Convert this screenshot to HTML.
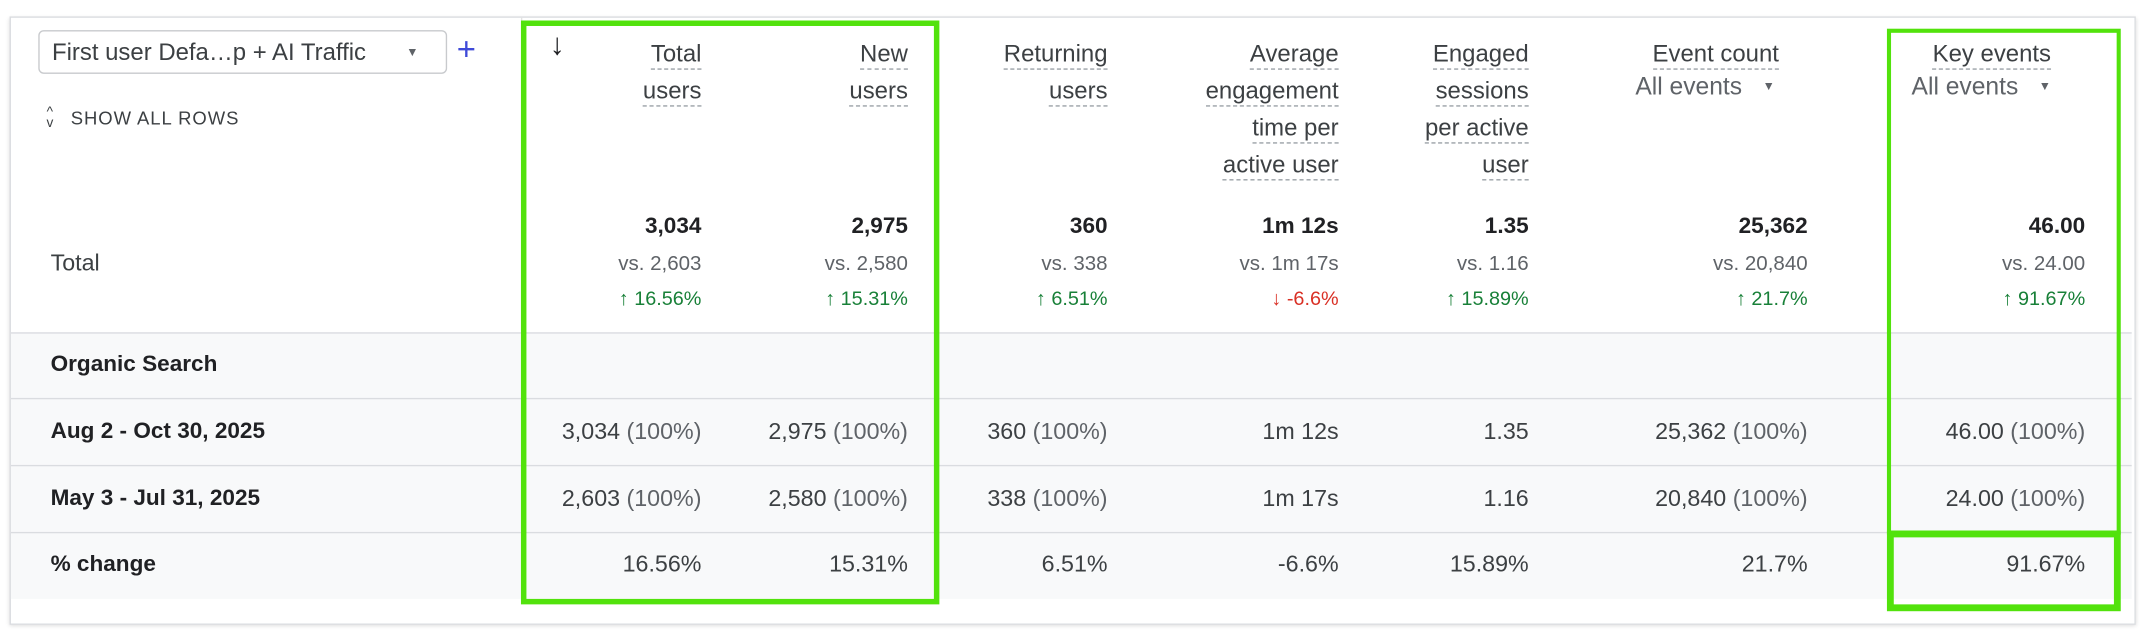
<!DOCTYPE html>
<html><head><meta charset="utf-8">
<style>
html,body{margin:0;padding:0;background:#fff;width:2144px;height:630px;overflow:hidden;}
#s{position:absolute;left:0;top:0;width:1568px;height:461px;transform:scale(1.36735);transform-origin:0 0;font-family:"Liberation Sans",sans-serif;color:#3c4043;}
.a{position:absolute;white-space:nowrap;}
.r{position:absolute;white-space:nowrap;text-align:right;transform:translateY(-50%);}
.h{font-size:17.5px;color:#3c4043;line-height:16px;}
.h span{border-bottom:1.5px dashed #9aa0a6;padding-bottom:1px;}
.b{font-weight:bold;font-size:16.5px;color:#202124;}
.v{font-size:15px;color:#5f6368;}
.g{font-size:14.5px;color:#188038;}
.rd{font-size:14.5px;color:#d93025;}
.c{font-size:17px;color:#3c4043;}
.p{color:#5f6368;}
.lab{font-weight:bold;font-size:16.5px;color:#202124;transform:translateY(-50%);}
.row{position:absolute;left:8px;width:1551px;background:#f8f9fa;border-top:1.5px solid #dadce0;}
.gb{position:absolute;border:4px solid #52e20c;box-sizing:border-box;}
</style></head><body>
<div id="s">
<div class="a" style="left:7px;top:12px;width:1553px;height:443px;border:1px solid #dadce0;box-shadow:0 1px 3px rgba(0,0,0,.15);background:#fff;"></div>
<div class="a" style="left:381px;top:13px;width:1px;height:230px;background:#e3e3e3;"></div>

<div class="a" style="left:28px;top:22px;width:297px;height:30px;border:1px solid #c8cacd;border-radius:4px;font-size:17.5px;line-height:30px;color:#3c4043;">
<span style="margin-left:9px">First user Defa…p + AI Traffic</span><span style="position:absolute;right:20px;font-size:9px;color:#5f6368">▼</span></div>
<div class="a" style="left:334px;top:22px;font-size:24px;color:#3f4ad8;line-height:30px;">+</div>
<div class="a" style="left:34px;top:78px;font-size:13.5px;color:#3c4043;letter-spacing:.7px;line-height:18px;"><span style="font-size:10px;display:inline-block;line-height:8px;vertical-align:middle;margin-right:12px;text-align:center">^<br>v</span>SHOW ALL ROWS</div>

<div class="a" style="left:402px;top:20px;font-size:22px;font-weight:bold;color:#202124;">↓</div>

<!-- headers -->
<div class="a h" style="right:1055px;top:26px;text-align:right;line-height:27px;"><span>Total</span><br><span>users</span></div>
<div class="a h" style="right:904px;top:26px;text-align:right;line-height:27px;"><span>New</span><br><span>users</span></div>
<div class="a h" style="right:758px;top:26px;text-align:right;line-height:27px;"><span>Returning</span><br><span>users</span></div>
<div class="a h" style="right:589px;top:26px;text-align:right;line-height:27px;"><span>Average</span><br><span>engagement</span><br><span>time per</span><br><span>active user</span></div>
<div class="a h" style="right:450px;top:26px;text-align:right;line-height:27px;"><span>Engaged</span><br><span>sessions</span><br><span>per active</span><br><span>user</span></div>
<div class="a h" style="right:267px;top:26px;text-align:right;line-height:27px;"><span>Event count</span></div>
<div class="a" style="left:1196px;top:53px;font-size:18px;color:#5f6368;">All events <span style="font-size:9px;margin-left:10px;vertical-align:3px">▼</span></div>
<div class="a h" style="right:68px;top:26px;text-align:right;line-height:27px;"><span>Key events</span></div>
<div class="a" style="left:1398px;top:53px;font-size:18px;color:#5f6368;">All events <span style="font-size:9px;margin-left:10px;vertical-align:3px">▼</span></div>

<!-- totals -->
<div class="a c" style="left:37px;top:183px;">Total</div>
<div class="r b" style="right:1055px;top:166px">3,034</div>
<div class="r b" style="right:904px;top:166px">2,975</div>
<div class="r b" style="right:758px;top:166px">360</div>
<div class="r b" style="right:589px;top:166px">1m 12s</div>
<div class="r b" style="right:450px;top:166px">1.35</div>
<div class="r b" style="right:246px;top:166px">25,362</div>
<div class="r b" style="right:43px;top:166px">46.00</div>

<div class="r v" style="right:1055px;top:193px">vs. 2,603</div>
<div class="r v" style="right:904px;top:193px">vs. 2,580</div>
<div class="r v" style="right:758px;top:193px">vs. 338</div>
<div class="r v" style="right:589px;top:193px">vs. 1m 17s</div>
<div class="r v" style="right:450px;top:193px">vs. 1.16</div>
<div class="r v" style="right:246px;top:193px">vs. 20,840</div>
<div class="r v" style="right:43px;top:193px">vs. 24.00</div>

<div class="r g" style="right:1055px;top:219px"><b>↑</b> 16.56%</div>
<div class="r g" style="right:904px;top:219px"><b>↑</b> 15.31%</div>
<div class="r g" style="right:758px;top:219px"><b>↑</b> 6.51%</div>
<div class="r rd" style="right:589px;top:219px"><b>↓</b> -6.6%</div>
<div class="r g" style="right:450px;top:219px"><b>↑</b> 15.89%</div>
<div class="r g" style="right:246px;top:219px"><b>↑</b> 21.7%</div>
<div class="r g" style="right:43px;top:219px"><b>↑</b> 91.67%</div>

<!-- body rows -->
<div class="row" style="top:243px;height:48px"></div>
<div class="row" style="top:291px;height:48px"></div>
<div class="row" style="top:340px;height:48px"></div>
<div class="row" style="top:389px;height:48px"></div>

<div class="a lab" style="left:37px;top:267px">Organic Search</div>
<div class="a lab" style="left:37px;top:316px">Aug 2 - Oct 30, 2025</div>
<div class="a lab" style="left:37px;top:365px">May 3 - Jul 31, 2025</div>
<div class="a lab" style="left:37px;top:413px">% change</div>

<div class="r c" style="right:1055px;top:316px">3,034 <span class="p">(100%)</span></div>
<div class="r c" style="right:904px;top:316px">2,975 <span class="p">(100%)</span></div>
<div class="r c" style="right:758px;top:316px">360 <span class="p">(100%)</span></div>
<div class="r c" style="right:589px;top:316px">1m 12s</div>
<div class="r c" style="right:450px;top:316px">1.35</div>
<div class="r c" style="right:246px;top:316px">25,362 <span class="p">(100%)</span></div>
<div class="r c" style="right:43px;top:316px">46.00 <span class="p">(100%)</span></div>

<div class="r c" style="right:1055px;top:365px">2,603 <span class="p">(100%)</span></div>
<div class="r c" style="right:904px;top:365px">2,580 <span class="p">(100%)</span></div>
<div class="r c" style="right:758px;top:365px">338 <span class="p">(100%)</span></div>
<div class="r c" style="right:589px;top:365px">1m 17s</div>
<div class="r c" style="right:450px;top:365px">1.16</div>
<div class="r c" style="right:246px;top:365px">20,840 <span class="p">(100%)</span></div>
<div class="r c" style="right:43px;top:365px">24.00 <span class="p">(100%)</span></div>

<div class="r c" style="right:1055px;top:413px">16.56%</div>
<div class="r c" style="right:904px;top:413px">15.31%</div>
<div class="r c" style="right:758px;top:413px">6.51%</div>
<div class="r c" style="right:589px;top:413px">-6.6%</div>
<div class="r c" style="right:450px;top:413px">15.89%</div>
<div class="r c" style="right:246px;top:413px">21.7%</div>
<div class="r c" style="right:43px;top:413px">91.67%</div>

<!-- green highlight boxes -->
<div class="gb" style="left:381px;top:15px;width:306px;height:427px;"></div>
<div class="gb" style="left:1380px;top:21px;width:171px;height:370px;border-width:3px;"></div>
<div class="gb" style="left:1380px;top:388px;width:171px;height:59px;border-width:5px;"></div>
</div>
</body></html>
